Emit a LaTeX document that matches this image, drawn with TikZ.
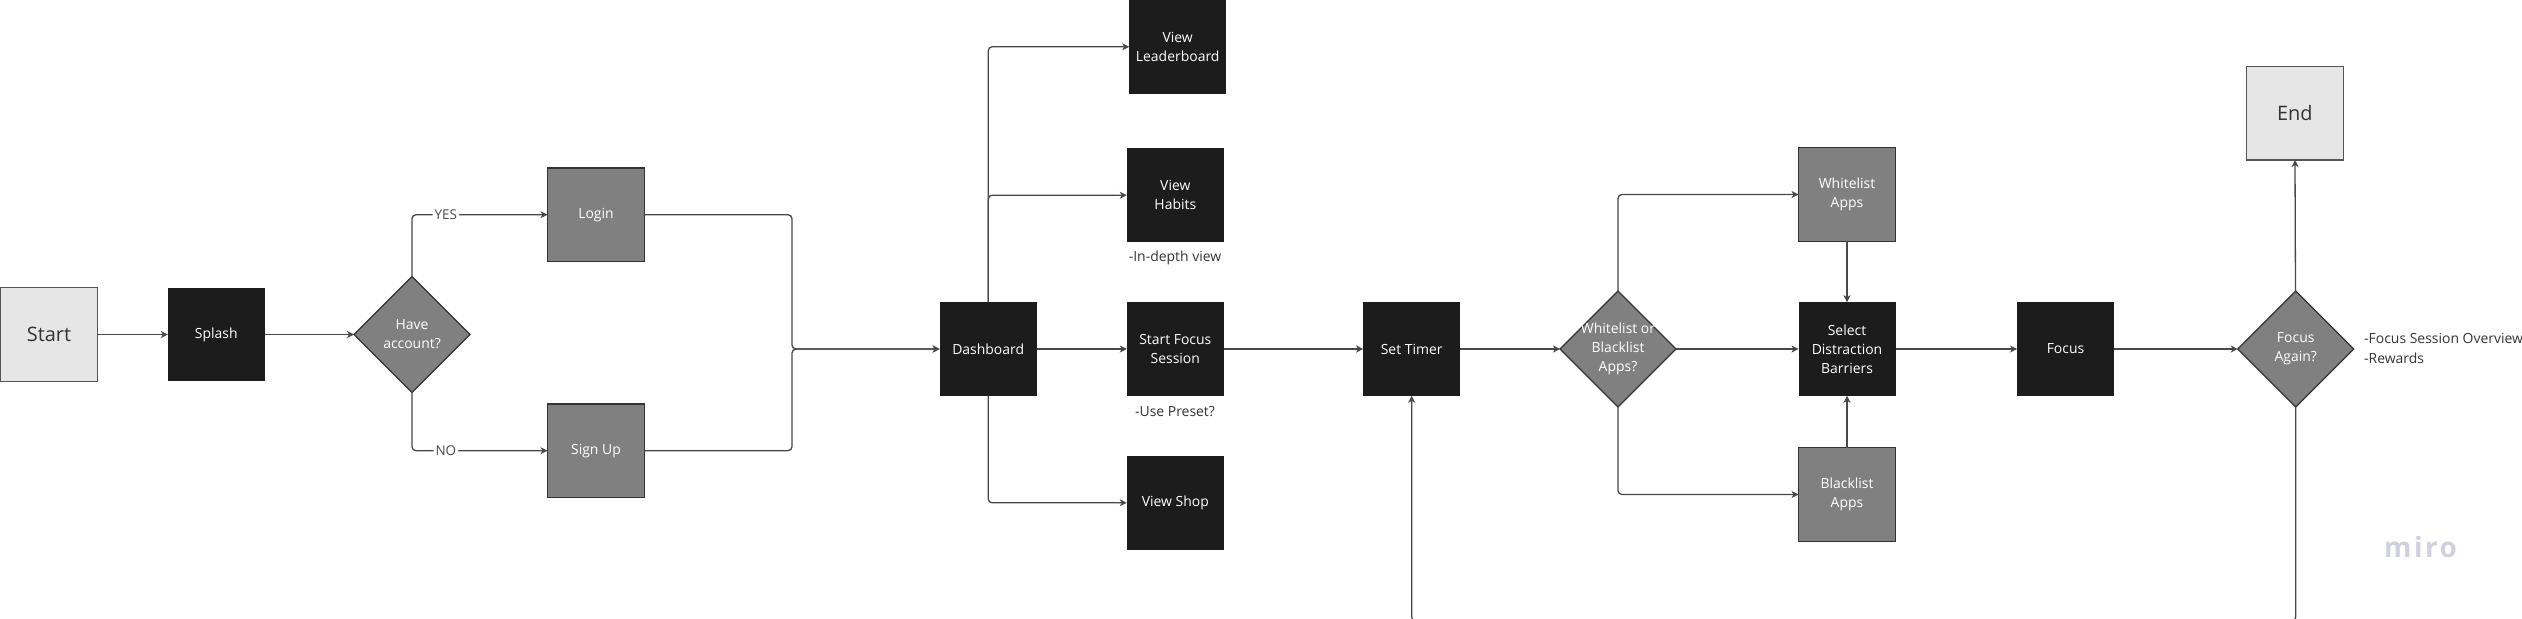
\documentclass[tikz,border=0pt]{standalone}
\usepackage{fontspec}
\setmainfont{Open Sans}
\usetikzlibrary{arrows.meta,shapes.geometric}
\definecolor{darkbox}{RGB}{28,28,28}
\definecolor{graybox}{RGB}{128,128,128}
\definecolor{graybd}{RGB}{51,51,51}
\definecolor{lightbox}{RGB}{230,230,230}
\definecolor{lightbd}{RGB}{85,85,85}
\definecolor{linec}{RGB}{72,72,72}
\definecolor{notec}{RGB}{51,51,51}
\definecolor{miroc}{RGB}{208,208,222}
\begin{document}
\begin{tikzpicture}[x=1bp,y=-1bp,
  base/.style={rectangle, inner sep=0pt, outer sep=0pt, minimum width=97bp, minimum height=93.5bp, align=center, font=\fontsize{14}{19}\selectfont},
  darkb/.style={base, fill=darkbox, text=white},
  grayb/.style={base, fill=graybox, draw=graybd, line width=1.2bp, text=white},
  termb/.style={base, fill=lightbox, draw=lightbd, line width=1.2bp, text=black!80, font=\fontsize{20}{24}\selectfont},
  dia/.style={diamond, inner sep=0pt, outer sep=0pt, minimum width=116bp, minimum height=116bp, fill=graybox, draw=graybd, line width=1.2bp},
  diat/.style={align=center, text=white, font=\fontsize{14}{19}\selectfont, inner sep=0pt},
  conn/.style={draw=linec, line width=1.3bp, rounded corners=4bp, -{Stealth[length=7bp,width=7bp,inset=2bp]}},
  edgel/.style={fill=white, text=linec, font=\fontsize{13.5}{16}\selectfont, inner sep=2bp},
  note/.style={text=notec, font=\fontsize{14}{20}\selectfont, inner sep=0pt, align=left}
]
\useasboundingbox (0,0) rectangle (2522,619);
% nodes
\node[termb] (start) at (49,334.5) {Start};
\node[darkb] (splash) at (216.3,334.5) {Splash};
\node[dia] (d1) at (412,334.5) {};
\node[diat] (d1t) at (d1) {Have\\account?};
\node[grayb] (login) at (596,214.7) {Login};
\node[grayb] (signup) at (596,450.7) {Sign Up};
\coordinate (mj) at (792,349);
\node[darkb] (dash) at (988.2,349) {Dashboard};
\node[darkb] (lead) at (1177.7,46.8) {View\\Leaderboard};
\node[darkb] (habits) at (1175.3,195.2) {View\\Habits};
\node[darkb] (sfs) at (1175.3,349) {Start Focus\\Session};
\node[darkb] (shop) at (1175.3,502.8) {View Shop};
\node[note] (n1) at (1175,257.4) {-In-depth view};
\node[note] (n2) at (1175,411.8) {-Use Preset?};
\node[darkb] (timer) at (1411.7,349) {Set Timer};
\node[dia] (wob) at (1618,349) {};
\node[diat] (wobt) at (wob) {Whitelist or\\Blacklist\\Apps?};
\node[grayb] (white) at (1847,194.5) {Whitelist\\Apps};
\node[darkb] (sel) at (1847,349) {Select\\Distraction\\Barriers};
\node[grayb] (black) at (1847,494.5) {Blacklist\\Apps};
\node[darkb] (focus) at (2065.5,349) {Focus};
\node[dia] (fa) at (2295.7,349) {};
\node[diat] (fat) at (fa) {Focus\\Again?};
\node[termb] (end) at (2294.8,113.3) {End};
\node[note, anchor=west] (n3) at (2364,348.5) {-Focus Session Overview\\-Rewards};
\node[text=miroc, font=\fontsize{28}{28}\selectfont\bfseries\addfontfeatures{LetterSpace=9}, inner sep=0pt, anchor=base west] (miro) at (2384,557.3) {miro};
\coordinate (lb) at (1500,621);
% connectors
\draw[conn] (start) -- (splash);
\draw[conn] (splash) -- (d1);
\draw[conn] (d1.north) |- (login.west) node[edgel, pos=0.625] {YES};
\draw[conn] (d1.south) |- (signup.west) node[edgel, pos=0.625] {NO};
\draw[conn] (login.east) -| (mj) -- (dash.west);
\draw[conn] (signup.east) -| (mj) -- (dash.west);
\draw[conn] (dash) -- (sfs);
\draw[conn] (dash.north) |- (lead.west);
\draw[conn] (dash.north) |- (habits.west);
\draw[conn] (dash.south) |- (shop.west);
\draw[conn] (sfs) -- (timer);
\draw[conn] (timer) -- (wob);
\draw[conn] (wob.north) |- (white.west);
\draw[conn] (wob.south) |- (black.west);
\draw[conn] (wob) -- (sel);
\draw[conn] (white) -- (sel);
\draw[conn] (black) -- (sel);
\draw[conn] (sel) -- (focus);
\draw[conn] (focus) -- (fa);
\draw[conn] (fa) -- (end);
\draw[conn] (fa.south) -- (fa.south |- lb) -| (timer.south);
\end{tikzpicture}
\end{document}
